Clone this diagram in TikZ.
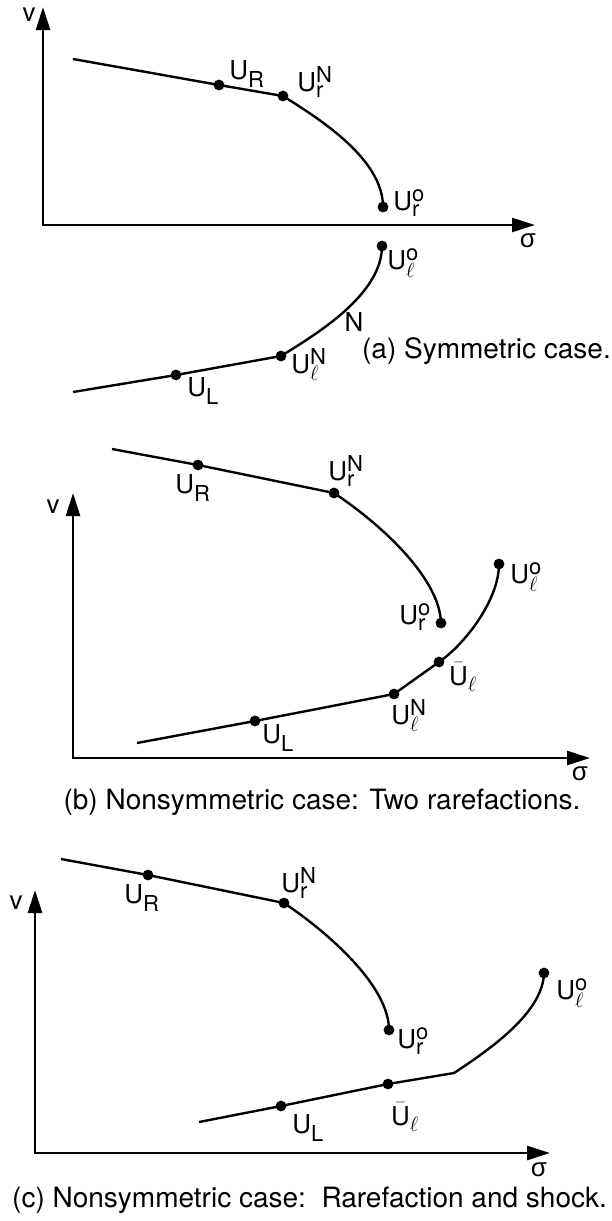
\documentclass[tikz,border=0pt]{standalone}
\usepackage{fontspec}
\setmainfont{TeX Gyre Heros}
\setmathrm{TeX Gyre Heros}
\newfontfamily\grk{Liberation Sans}
\DeclareMathSizes{26}{26}{22}{16}
\usepackage{tikz}
\usetikzlibrary{arrows.meta}

\begin{document}
\begin{tikzpicture}[
    x=1pt, y=-1pt,
    curve/.style={line width=2.4pt, line join=round},
    axis/.style={line width=2.6pt, line join=miter,
      {Triangle[length=23pt,width=14pt]}-{Triangle[length=23pt,width=14pt]}},
    dot/.style={fill=black},
    lab/.style={font=\fontsize{26}{28}\selectfont, inner sep=0pt},
    caption/.style={font=\fontsize{28}{30}\selectfont, inner sep=0pt},
  ]
    \useasboundingbox (0,0) rectangle (612,1221);

    % (a) symmetric case
    \coordinate (aV) at (43,7);
    \coordinate (aO) at (43,225);
    \coordinate (aS) at (535,225);
    \draw[axis] (aV) -- (aO) -- (aS);
    \node[lab] (av) at (29,15) {v};
    \node[lab] (asig) at (528,241) {\grk σ};

    \coordinate (a0) at (73,59);
    \coordinate (aUR) at (219,85);
    \coordinate (aUrN) at (283,96);
    \coordinate (aUro) at (383,207);
    \coordinate (aUlo) at (382,246);
    \coordinate (aUlN) at (281,356);
    \coordinate (aUL) at (176,375);
    \coordinate (a1) at (73,392);
    \draw[curve] (a0) -- (aUR) -- (aUrN) .. controls (323,121) and (383,160) .. (aUro);
    \draw[curve] (aUlo) .. controls (382,295) and (315,335) .. (aUlN) -- (aUL) -- (a1);
    \foreach \p in {aUR,aUrN,aUro,aUlo,aUlN,aUL}
      \fill[dot] (\p) circle[radius=5.4];

    \node[lab] (aURl) at (247,74) {$\mathrm{U}_{\mathrm{R}}$};
    \node[lab] (aUrNl) at (315,82) {$\mathrm{U}^{\mathrm{N}}_{\mathrm{r}}$};
    \node[lab] (aUrol) at (409,203) {$\mathrm{U}^{\mathrm{o}}_{\mathrm{r}}$};
    \node[lab] (aUlol) at (403,263) {$\mathrm{U}^{\mathrm{o}}_{\ell}$};
    \node[lab] (aN) at (354,322) {N};
    \node[lab] (aUlNl) at (309,364) {$\mathrm{U}^{\mathrm{N}}_{\ell}$};
    \node[lab] (aULl) at (203,391) {$\mathrm{U}_{\mathrm{L}}$};
    \node[caption, anchor=east] (acap) at (611,351) {(a) Symmetric case.};

    % (b) two rarefactions
    \coordinate (bV) at (73,493);
    \coordinate (bO) at (73,758);
    \coordinate (bS) at (590,758);
    \draw[axis] (bV) -- (bO) -- (bS);
    \node[lab] (bv) at (53,507) {v};
    \node[lab] (bsig) at (580,774) {\grk σ};

    \coordinate (b0) at (112,449);
    \coordinate (bUR) at (198,465);
    \coordinate (bUrN) at (334,493);
    \coordinate (bUro) at (441,623);
    \coordinate (b1) at (137,743);
    \coordinate (bUL) at (255,721);
    \coordinate (bUlN) at (394,694);
    \coordinate (bUlb) at (439,662);
    \coordinate (bUlo) at (499,564);
    \draw[curve] (b0) -- (bUR) -- (bUrN) .. controls (385,527) and (440,580) .. (bUro);
    \draw[curve] (b1) -- (bUL) -- (bUlN) -- (bUlb) .. controls (465,644) and (499,600) .. (bUlo);
    \foreach \p in {bUR,bUrN,bUro,bUL,bUlN,bUlb,bUlo}
      \fill[dot] (\p) circle[radius=5.4];

    \node[lab] (bURl) at (193,488) {$\mathrm{U}_{\mathrm{R}}$};
    \node[lab] (bUrNl) at (346,471) {$\mathrm{U}^{\mathrm{N}}_{\mathrm{r}}$};
    \node[lab] (bUrol) at (415,617) {$\mathrm{U}^{\mathrm{o}}_{\mathrm{r}}$};
    \node[lab] (bUlol) at (526,577) {$\mathrm{U}^{\mathrm{o}}_{\ell}$};
    \node[lab] (bUlbl) at (463,677) {$\bar{\mathrm{U}}_{\ell}$};
    \node[lab] (bUlNl) at (409,715) {$\mathrm{U}^{\mathrm{N}}_{\ell}$};
    \node[lab] (bULl) at (278,738) {$\mathrm{U}_{\mathrm{L}}$};
    \node[caption] (bcap) at (322,802) {(b) Nonsymmetric case: Two rarefactions.};

    % (c) rarefaction and shock
    \coordinate (cV) at (35,890);
    \coordinate (cO) at (35,1153);
    \coordinate (cS) at (550,1153);
    \draw[axis] (cV) -- (cO) -- (cS);
    \node[lab] (cv) at (16,903) {v};
    \node[lab] (csig) at (539,1170) {\grk σ};

    \coordinate (c0) at (61,859);
    \coordinate (cUR) at (148,875);
    \coordinate (cUrN) at (284,903);
    \coordinate (cUro) at (389,1030);
    \coordinate (c1) at (199,1122);
    \coordinate (cUL) at (281,1106);
    \coordinate (cUlb) at (388,1084);
    \coordinate (cK) at (454,1073);
    \coordinate (cUlo) at (544,973);
    \draw[curve] (c0) -- (cUR) -- (cUrN) .. controls (326,931) and (389,985) .. (cUro);
    \draw[curve] (c1) -- (cUL) -- (cUlb) -- (cK) .. controls (492,1048) and (543,1012) .. (cUlo);
    \foreach \p in {cUR,cUrN,cUro,cUL,cUlb,cUlo}
      \fill[dot] (\p) circle[radius=5.4];

    \node[lab] (cURl) at (142,898) {$\mathrm{U}_{\mathrm{R}}$};
    \node[lab] (cUrNl) at (299,883) {$\mathrm{U}^{\mathrm{N}}_{\mathrm{r}}$};
    \node[lab] (cUrol) at (413,1041) {$\mathrm{U}^{\mathrm{o}}_{\mathrm{r}}$};
    \node[lab] (cUlol) at (572,993) {$\mathrm{U}^{\mathrm{o}}_{\ell}$};
    \node[lab] (cUlbl) at (405,1117) {$\bar{\mathrm{U}}_{\ell}$};
    \node[lab] (cULl) at (308,1128) {$\mathrm{U}_{\mathrm{L}}$};
    \node[caption, anchor=west] (ccap) at (12,1200) {(c) Nonsymmetric case:\ \ Rarefaction and shock.};
  \end{tikzpicture}
\end{document}
